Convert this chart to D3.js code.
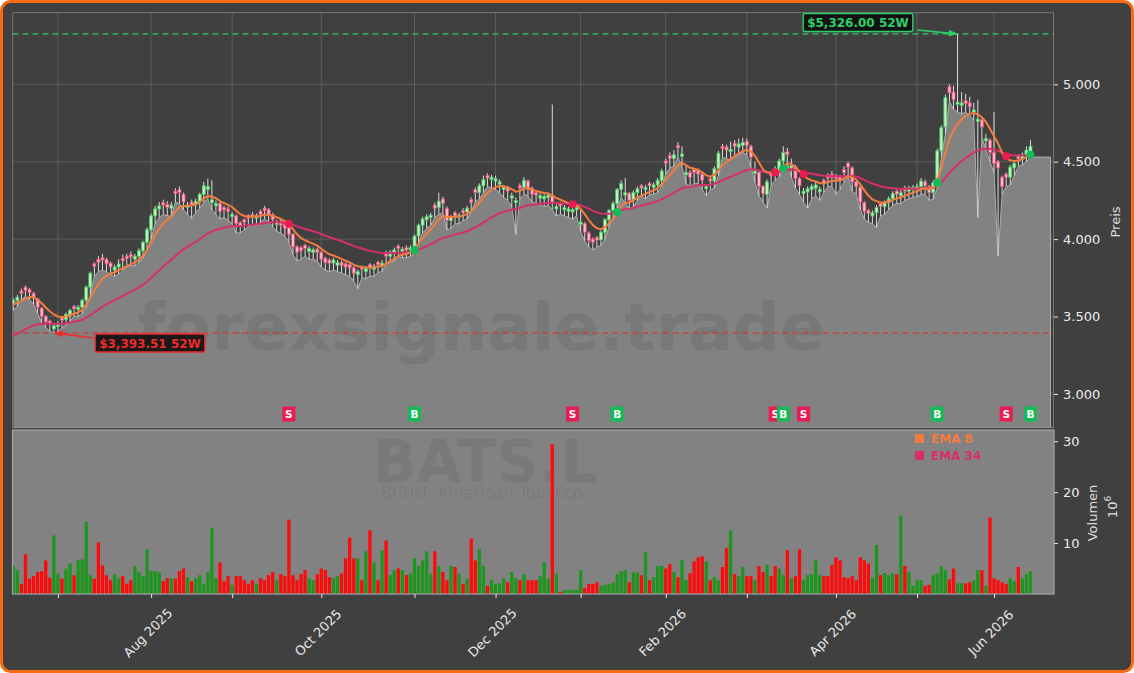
<!DOCTYPE html>
<html lang="de">
<head>
<meta charset="UTF-8">
<title>BATS.L - British American Tobacco</title>
<script src="https://cdn.jsdelivr.net/npm/d3@7"></script>
<style>
  body { margin: 0; background: #ffffff; }
  svg { display: block; font-family: "DejaVu Sans", sans-serif; }
</style>
</head>
<body>
<div id="chart"></div>
<script>
// ---- data (daily candles, GBp) ----
const startDate = "2025-06-16";
const holidays = ["2025-08-25", "2025-12-25", "2025-12-26", "2026-01-01",
                  "2026-04-03", "2026-04-06", "2026-05-04", "2026-05-25"];

const closes = [
  3605,3625,3650,3670,3655,3620,3560,3500,3465,3450,
  3440,3455,3475,3515,3540,3550,3560,3605,3690,3780,
  3825,3850,3865,3840,3820,3820,3840,3860,3875,3885,
  3890,3925,3980,4060,4150,4195,4215,4220,4205,4220,
  4295,4300,4240,4220,4225,4245,4290,4345,4340,4255,
  4230,4180,4190,4180,4160,4100,4080,4110,4135,4145,
  4150,4160,4185,4160,4125,4110,4090,4070,4030,3950,
  3915,3925,3940,3940,3930,3915,3870,3850,3845,3865,
  3850,3830,3820,3815,3780,3790,3805,3810,3815,3825,
  3835,3845,3890,3915,3930,3940,3935,3930,3945,4020,
  4090,4130,4145,4155,4200,4245,4230,4120,4140,4150,
  4155,4170,4200,4235,4300,4345,4385,4395,4400,4390,
  4370,4335,4310,4280,4250,4330,4380,4330,4290,4285,
  4280,4275,4285,4235,4210,4215,4205,4195,4190,4205,
  4110,4045,3990,3980,3995,4045,4125,4185,4230,4320,
  4360,4300,4250,4300,4325,4330,4335,4345,4350,4380,
  4440,4490,4520,4545,4590,4550,4430,4400,4430,4420,
  4380,4340,4375,4455,4555,4585,4575,4580,4600,4615,
  4625,4605,4530,4440,4340,4295,4370,4410,4440,4505,
  4560,4545,4475,4390,4345,4310,4325,4340,4350,4320,
  4360,4395,4400,4390,4380,4430,4465,4370,4340,4240,
  4180,4165,4170,4205,4210,4235,4260,4295,4290,4300,
  4310,4330,4335,4340,4375,4345,4300,4365,4570,4720,
  4915,4945,4900,4885,4880,4875,4855,4835,4775,4725,
  4650,4560,4490,4460,4340,4400,4465,4490,4520,4545,
  4575,4600
];
const opens = [
  3585,3605,3665,3690,3675,3650,3615,3555,3500,3470,
  3420,3435,3490,3480,3510,3565,3545,3560,3605,3690,
  3840,3870,3880,3870,3845,3800,3820,3875,3890,3900,
  3870,3890,3925,3980,4060,4150,4195,4235,4225,4200,
  4310,4320,4290,4205,4240,4225,4245,4290,4320,4235,
  4215,4230,4205,4195,4145,4150,4105,4125,4150,4160,
  4135,4180,4200,4190,4160,4095,4115,4095,4075,4030,
  3950,3945,3960,3920,3915,3935,3915,3875,3865,3845,
  3830,3850,3840,3835,3815,3770,3820,3790,3835,3805,
  3850,3825,3910,3890,3910,3955,3920,3945,3930,3945,
  4020,4090,4125,4140,4220,4205,4260,4200,4120,4170,
  4140,4185,4175,4255,4320,4300,4345,4410,4385,4375,
  4355,4320,4335,4265,4235,4345,4335,4375,4330,4300,
  4265,4260,4270,4285,4195,4230,4190,4180,4175,4190,
  4095,4100,4040,4000,4010,3995,4045,4125,4185,4230,
  4320,4285,4295,4255,4300,4345,4320,4360,4335,4350,
  4380,4505,4540,4520,4605,4535,4415,4430,4450,4445,
  4420,4325,4390,4375,4455,4600,4595,4565,4620,4595,
  4605,4630,4600,4425,4430,4340,4290,4425,4455,4440,
  4505,4565,4460,4470,4390,4295,4305,4320,4330,4305,
  4380,4410,4420,4410,4400,4450,4490,4460,4370,4335,
  4235,4185,4150,4170,4230,4210,4235,4260,4310,4280,
  4330,4310,4320,4325,4340,4370,4340,4300,4365,4570,
  4725,4985,4950,4870,4865,4895,4880,4820,4760,4770,
  4635,4640,4560,4500,4400,4420,4400,4460,4540,4520,
  4545,4560
];
const highs = [
  3620,3640,3680,3700,3685,3660,3620,3560,3510,3480,
  3455,3470,3500,3525,3550,3575,3575,3615,3700,3790,
  3850,3890,3905,3880,3855,3835,3870,3900,3905,3920,
  3905,3940,3990,4075,4165,4215,4240,4255,4245,4240,
  4330,4340,4300,4240,4255,4260,4300,4370,4390,4380,
  4250,4240,4215,4210,4175,4160,4115,4135,4160,4175,
  4165,4190,4215,4200,4170,4125,4125,4105,4085,4040,
  3960,3955,3970,3955,3945,3945,3925,3885,3875,3880,
  3865,3860,3850,3845,3825,3805,3830,3825,3845,3840,
  3860,3865,3925,3930,3945,3965,3950,3960,3960,4030,
  4100,4145,4160,4170,4235,4300,4275,4210,4155,4180,
  4170,4200,4215,4270,4335,4360,4410,4425,4415,4410,
  4385,4350,4345,4300,4270,4360,4400,4385,4340,4310,
  4295,4290,4300,4870,4225,4240,4220,4210,4205,4220,
  4200,4110,4050,4010,4020,4055,4135,4195,4245,4330,
  4380,4395,4305,4315,4340,4355,4350,4370,4365,4395,
  4455,4520,4560,4575,4625,4600,4480,4445,4460,4455,
  4430,4355,4400,4470,4570,4615,4610,4630,4640,4650,
  4655,4650,4610,4500,4440,4350,4385,4440,4470,4520,
  4600,4590,4520,4480,4400,4330,4340,4355,4370,4340,
  4390,4425,4440,4420,4415,4470,4500,4470,4380,4345,
  4245,4195,4185,4220,4240,4250,4275,4310,4320,4325,
  4345,4345,4350,4360,4395,4385,4350,4380,4585,4735,
  4935,5000,4990,5326,4950,4940,4920,4880,4900,4780,
  4680,4650,4820,4510,4410,4430,4480,4500,4550,4560,
  4600,4640
];
const lows = [
  3540,3570,3610,3630,3610,3580,3520,3460,3430,3405,
  3394,3400,3430,3445,3470,3505,3500,3520,3560,3640,
  3760,3790,3800,3790,3770,3760,3775,3800,3820,3830,
  3830,3850,3880,3930,4000,4100,4140,4160,4150,4150,
  4240,4230,4190,4160,4135,4170,4200,4240,4260,4190,
  4160,4130,4140,4120,4100,4040,4040,4060,4080,4095,
  4090,4110,4130,4110,4080,4050,4040,4020,3980,3900,
  3860,3870,3890,3870,3870,3860,3820,3800,3790,3800,
  3790,3780,3770,3760,3730,3680,3750,3745,3760,3760,
  3785,3790,3840,3850,3860,3890,3880,3880,3890,3910,
  3980,4040,4070,4090,4140,4160,4170,4060,4070,4100,
  4100,4120,4130,4180,4240,4260,4300,4340,4330,4320,
  4300,4270,4250,4210,4030,4260,4290,4280,4240,4230,
  4220,4210,4220,4190,4150,4160,4150,4140,4130,4150,
  4050,3990,3950,3930,3950,3960,4000,4080,4140,4190,
  4270,4230,4200,4210,4250,4280,4260,4290,4290,4300,
  4340,4420,4460,4470,4530,4470,4360,4340,4360,4360,
  4320,4280,4320,4330,4410,4530,4520,4510,4540,4545,
  4560,4545,4470,4370,4280,4240,4200,4350,4380,4400,
  4460,4490,4400,4330,4290,4240,4200,4260,4280,4250,
  4300,4340,4340,4290,4320,4370,4400,4310,4290,4190,
  4130,4110,4100,4075,4150,4160,4190,4220,4230,4230,
  4250,4260,4270,4275,4290,4290,4250,4260,4330,4530,
  4680,4890,4840,4820,4810,4820,4800,4770,4140,4660,
  4580,4500,4430,3890,4290,4340,4350,4410,4470,4480,
  4500,4530
];
// volume in millions
const volumes = [
  5.5,4.7,2,7.8,3,3.5,4.3,4.5,6.6,3.2,
  11.5,4,3,5,6,3.7,6.6,6.8,14.2,3.7,
  3,10.1,5.6,3.7,2.7,3.9,3.1,3.5,2,2.7,
  5.5,4.3,3.5,8.8,4.5,4.5,4.3,2.5,3.1,3.1,
  3,4.5,5,3.3,2.5,3.1,3.7,2,4.3,12.9,
  3.1,6.2,2.5,3.5,1.8,3.5,3.5,2.7,2,2.7,
  2,3.1,2.7,3.7,4.3,2.7,3.9,3.5,14.6,3.7,
  2.7,3.9,4.7,3.1,2.7,3.9,5,4.7,3.3,3.1,
  3.5,4,7,11.1,7,7,2.7,8.4,12.5,6.2,
  2.7,8.6,10.5,3.7,4.7,5,4.7,3.7,4,7,
  5.5,6.6,8.4,4,8.4,5.5,4.3,2.7,5.5,5.3,
  4,2,3,10.9,6.6,8.8,5.5,1.6,2.7,2,
  2.1,3.1,2.3,4.3,3.1,2.7,3.9,2.7,2.7,2.7,
  3.5,6.2,3,29.4,4,0.4,0.8,0.8,0.8,0.8,
  4.7,1.2,2,2,2.3,1.6,1.8,2,2.3,3.9,
  4.5,4.7,2.3,4.3,4.2,3.7,8.2,2.7,3.3,5.5,
  5.5,5,5.9,4.3,3.3,6.6,2.7,4.1,6.4,7.2,
  7.4,6.4,2.7,3.3,2.7,5.3,9,12.5,3.9,3.5,
  5.3,3.5,3.5,2.7,5.5,4.3,5.7,3.5,5.5,5,
  3.7,8.6,3.1,3.5,8.8,2.7,3.7,3.9,6.6,3.7,
  3.5,3.5,5.7,7.2,6.6,3.3,3.1,3.5,2.7,7.2,
  6.6,6,3.1,9.6,3.7,4.1,3.7,4.1,3.9,15.4,
  5.5,4.3,1.6,2.7,2.7,1.6,1.8,3.7,4.1,5.5,
  4.7,2.9,5,2.1,2.1,2.1,2.3,2.7,4.7,4.7,
  1.6,15,3.1,2.7,2.3,2,3.1,2.5,5.3,3.1,
  3.9,4.5
];

const signalIdx  = [68, 99, 138, 149, 188, 190, 195, 228, 245, 251];
const signalType = ["S","B","S","B","S","B","S","B","S","B"];

const priceTicks = [3000, 3500, 4000, 4500, 5000];
const volTicks = [10, 20, 30];
const high52 = 5326.00, high52Idx = 233;
const low52 = 3393.51, low52Idx = 10;
// EMA state carried in from before the visible window
const ema8Seed = 3570, ema34Seed = 3360;

// ---- trading calendar ----
const parseDay = d3.utcParse("%Y-%m-%d"), dayKey = d3.utcFormat("%Y-%m-%d");
const dates = [];
for (let d = parseDay(startDate); dates.length < closes.length; d = d3.utcDay.offset(d, 1)) {
  const wd = d.getUTCDay();
  if (wd !== 0 && wd !== 6 && !holidays.includes(dayKey(d))) dates.push(d);
}
const monthIdx = d3.range(1, dates.length).filter(i => dates[i].getUTCMonth() !== dates[i - 1].getUTCMonth());

function ema(values, period, seed) {
  const k = 2 / (period + 1);
  let prev = seed;
  return values.map(v => (prev = prev + k * (v - prev)));
}
const ema8 = ema(closes, 8, ema8Seed);
const ema34 = ema(closes, 34, ema34Seed);

// ---- layout ----
const W = 1134, H = 673;
const P = { left: 12.5, right: 1054, top: 12.5, bottom: 428 };
const V = { top: 430, bottom: 594 };

const x = d3.scaleLinear().domain([-0.2, 256.8]).range([P.left, P.right]);
const y = d3.scaleLinear().domain([2780, 5464]).range([P.bottom, P.top]);
const yv = d3.scaleLinear().domain([0, 32.2]).range([V.bottom, V.top]);

const deFmt = d3.formatLocale({ decimal: ",", thousands: ".", grouping: [3], currency: ["", ""] }).format(",d");
const usd = d3.format("$,.2f");

const upColor = "#1e961e", downColor = "#ff0a0a";
const ema8Color = "#f47c3c", ema34Color = "#d72f6b";
const buyColor = "#12bb57", sellColor = "#ec1a50";

const svg = d3.select("#chart").append("svg").attr("width", W).attr("height", H);

svg.append("rect").attr("x", 1.5).attr("y", 1.5).attr("width", W - 3).attr("height", H - 3)
  .attr("rx", 9).attr("fill", "#404040").attr("stroke", "#f96b10").attr("stroke-width", 3);

const defs = svg.append("defs");
defs.append("clipPath").attr("id", "clipPrice").append("rect")
  .attr("x", P.left).attr("y", P.top).attr("width", P.right - P.left).attr("height", P.bottom - P.top);
defs.append("clipPath").attr("id", "clipVol").append("rect")
  .attr("x", P.left).attr("y", V.top).attr("width", P.right - P.left).attr("height", V.bottom - V.top);
[["arrowG", "#2ccf6a"], ["arrowR", "#ef2a2a"]].forEach(([id, c]) => {
  defs.append("marker").attr("id", id).attr("viewBox", "0 0 10 8").attr("refX", 9).attr("refY", 4)
    .attr("markerWidth", 9).attr("markerHeight", 7).attr("markerUnits", "userSpaceOnUse").attr("orient", "auto")
    .append("path").attr("d", "M0,0L10,4L0,8z").attr("fill", c);
});

// ---- price panel ----
const price = svg.append("g").attr("clip-path", "url(#clipPrice)");

price.append("g").selectAll("line.h").data(priceTicks).join("line")
  .attr("x1", P.left).attr("x2", P.right).attr("y1", d => y(d)).attr("y2", d => y(d))
  .attr("stroke", "#5c5c5c").attr("stroke-width", 1);
price.append("g").selectAll("line.v").data(monthIdx).join("line")
  .attr("x1", d => x(d)).attr("x2", d => x(d)).attr("y1", P.top).attr("y2", P.bottom)
  .attr("stroke", "#5c5c5c").attr("stroke-width", 1);

const areaPts = lows.map((v, i) => [x(i), y(v)]);
areaPts.push([x(lows.length - 1) + 20, y(lows[lows.length - 1])]);
price.append("path").datum(areaPts)
  .attr("d", d3.area().x(d => d[0]).y0(P.bottom + 2).y1(d => d[1]))
  .attr("fill", "#828282");
price.append("path").datum(areaPts.concat([[areaPts[areaPts.length - 1][0], P.bottom + 2]]))
  .attr("d", d3.line().x(d => d[0]).y(d => d[1]))
  .attr("fill", "none").attr("stroke", "#b4b4b4").attr("stroke-width", 0.9);

price.append("text").attr("x", 481).attr("y", 350).attr("text-anchor", "middle")
  .attr("font-size", 66).attr("font-weight", "bold").attr("fill", "#000").attr("fill-opacity", 0.075)
  .text("forexsignale.trade");

price.append("line").attr("x1", P.left).attr("x2", P.right).attr("y1", y(high52)).attr("y2", y(high52))
  .attr("stroke", "#35b469").attr("stroke-width", 1.6).attr("stroke-dasharray", "6,4").attr("opacity", 0.85);
price.append("line").attr("x1", P.left).attr("x2", P.right).attr("y1", y(low52)).attr("y2", y(low52))
  .attr("stroke", "#d23a3a").attr("stroke-width", 1.6).attr("stroke-dasharray", "6,4").attr("opacity", 0.85);

const candles = price.append("g").selectAll("g").data(closes).join("g");
candles.append("line")
  .attr("x1", (d, i) => x(i)).attr("x2", (d, i) => x(i))
  .attr("y1", (d, i) => y(highs[i])).attr("y2", (d, i) => y(lows[i]))
  .attr("stroke", "#dadada").attr("stroke-width", 1);
candles.append("rect")
  .attr("x", (d, i) => x(i) - 1.5).attr("width", 3)
  .attr("y", (d, i) => y(Math.max(d, opens[i])))
  .attr("height", (d, i) => Math.max(1, Math.abs(y(d) - y(opens[i]))))
  .attr("fill", (d, i) => d >= opens[i] ? "#c4efc4" : "#f6bccb")
  .attr("stroke", (d, i) => d >= opens[i] ? "#3fcf5c" : "#ea4a72")
  .attr("stroke-width", 0.8);

const emaLine = d3.line().x((d, i) => x(i)).y(d => y(d));
price.append("path").datum(ema34).attr("d", emaLine).attr("fill", "none")
  .attr("stroke", ema34Color).attr("stroke-width", 2);
price.append("path").datum(ema8).attr("d", emaLine).attr("fill", "none")
  .attr("stroke", ema8Color).attr("stroke-width", 2);

price.append("g").selectAll("circle").data(signalIdx).join("circle")
  .attr("cx", d => x(d)).attr("cy", d => y((ema8[d] + ema34[d]) / 2)).attr("r", 4)
  .attr("fill", (d, k) => signalType[k] === "B" ? buyColor : sellColor);

const sig = price.append("g").selectAll("g").data(signalIdx).join("g")
  .attr("transform", d => `translate(${x(d)},414)`);
sig.append("rect").attr("x", -6.5).attr("y", -7.5).attr("width", 13).attr("height", 15)
  .attr("fill", (d, k) => signalType[k] === "B" ? buyColor : sellColor);
sig.append("text").attr("text-anchor", "middle").attr("y", 4).attr("font-size", 10.5)
  .attr("font-weight", "bold").attr("fill", "#fff").text((d, k) => signalType[k]);

price.append("rect").attr("x", P.left).attr("y", P.top).attr("width", P.right - P.left)
  .attr("height", P.bottom - P.top).attr("fill", "none").attr("stroke", "#9c9c9c").attr("stroke-width", 1.2);

// 52-week annotations
function annotate(label, cx, cy, color, fromX, fromY, toX, toY, marker) {
  const g = svg.append("g");
  const t = g.append("text").attr("x", cx).attr("y", cy + 4.5).attr("text-anchor", "middle")
    .attr("font-size", 12).attr("font-weight", "bold").attr("fill", color).text(label);
  const w = t.node().getComputedTextLength();
  g.insert("rect", "text").attr("x", cx - w / 2 - 4).attr("y", cy - 9).attr("width", w + 8).attr("height", 18)
    .attr("rx", 2).attr("fill", "#0d0d0d").attr("fill-opacity", 0.9)
    .attr("stroke", color).attr("stroke-width", 1.4);
  svg.append("line").attr("x1", fromX).attr("y1", fromY).attr("x2", toX).attr("y2", toY)
    .attr("stroke", color).attr("stroke-width", 1.6).attr("marker-end", `url(#${marker})`);
}
annotate(usd(high52) + " 52W", 858, 22.5, "#2ccf6a", 917, 30, x(high52Idx) - 1, y(high52), "arrowG");
annotate(usd(low52) + " 52W", 150, 343, "#ef2a2a", 93, 338, x(low52Idx) + 1, y(low52), "arrowR");

// price axis
const pAxis = svg.append("g").attr("transform", `translate(${P.right},0)`)
  .call(d3.axisRight(y).tickValues(priceTicks).tickFormat(deFmt).tickSize(4).tickPadding(5));
pAxis.select(".domain").remove();
pAxis.selectAll("line").attr("stroke", "#e6e6e6");
pAxis.selectAll("text").attr("fill", "#ececec").attr("font-size", 13).attr("font-family", "DejaVu Sans");
svg.append("text").attr("transform", "translate(1120,222) rotate(-90)").attr("text-anchor", "middle")
  .attr("font-size", 13).attr("fill", "#dcdcdc").text("Preis");

// ---- volume panel ----
svg.append("rect").attr("x", P.left).attr("y", V.top).attr("width", P.right - P.left)
  .attr("height", V.bottom - V.top).attr("fill", "#828282");
const vol = svg.append("g").attr("clip-path", "url(#clipVol)");
vol.append("text").attr("x", 485).attr("y", 482).attr("text-anchor", "middle")
  .attr("font-size", 58).attr("font-weight", "bold").attr("fill", "#000").attr("fill-opacity", 0.065)
  .text("BATS.L");
vol.append("text").attr("x", 482).attr("y", 498).attr("text-anchor", "middle")
  .attr("font-size", 16).attr("fill", "#000").attr("fill-opacity", 0.07)
  .text("British American Tobacco");
vol.selectAll("rect.bar").data(volumes).join("rect").attr("class", "bar")
  .attr("x", (d, i) => x(i) - 1.65).attr("width", 3.3)
  .attr("y", d => yv(d)).attr("height", d => yv(0) - yv(d))
  .attr("fill", (d, i) => closes[i] >= opens[i] ? upColor : downColor);
svg.append("rect").attr("x", P.left).attr("y", V.top).attr("width", P.right - P.left)
  .attr("height", V.bottom - V.top).attr("fill", "none").attr("stroke", "#a4a4a4").attr("stroke-width", 1.2);

// legend
const legend = svg.append("g").attr("transform", "translate(915,434)");
[["EMA 8", ema8Color], ["EMA 34", ema34Color]].forEach(([name, c], k) => {
  legend.append("rect").attr("x", 0).attr("y", k * 17).attr("width", 9).attr("height", 9).attr("fill", c);
  legend.append("text").attr("x", 16).attr("y", k * 17 + 9).attr("font-size", 12)
    .attr("font-weight", "bold").attr("fill", c).text(name);
});

const vAxis = svg.append("g").attr("transform", `translate(${P.right},0)`)
  .call(d3.axisRight(yv).tickValues(volTicks).tickFormat(d3.format("d")).tickSize(4).tickPadding(5));
vAxis.select(".domain").remove();
vAxis.selectAll("line").attr("stroke", "#e6e6e6");
vAxis.selectAll("text").attr("fill", "#ececec").attr("font-size", 13).attr("font-family", "DejaVu Sans");
svg.append("text").attr("transform", "translate(1097,513) rotate(-90)").attr("text-anchor", "middle")
  .attr("font-size", 13).attr("fill", "#dcdcdc").text("Volumen");
const pow = svg.append("text").attr("transform", "translate(1117,507) rotate(-90)").attr("text-anchor", "middle")
  .attr("font-size", 13).attr("fill", "#dcdcdc");
pow.append("tspan").text("10");
pow.append("tspan").attr("font-size", 9).attr("dy", -6).text("6");

// time axis
const tAxis = svg.append("g").attr("transform", `translate(0,${V.bottom})`)
  .call(d3.axisBottom(x).tickValues(monthIdx).tickSize(4).tickFormat(""));
tAxis.select(".domain").remove();
tAxis.selectAll("line").attr("stroke", "#e6e6e6");
const monthFmt = d3.utcFormat("%b %Y");
svg.append("g").selectAll("text").data(monthIdx.filter(i => dates[i].getUTCMonth() % 2 === 1)).join("text")
  .attr("transform", i => `translate(${x(i)},636) rotate(-45)`)
  .attr("text-anchor", "middle").attr("font-size", 13).attr("fill", "#e8e8e8")
  .text(i => monthFmt(dates[i]));
</script>
</body>
</html>
